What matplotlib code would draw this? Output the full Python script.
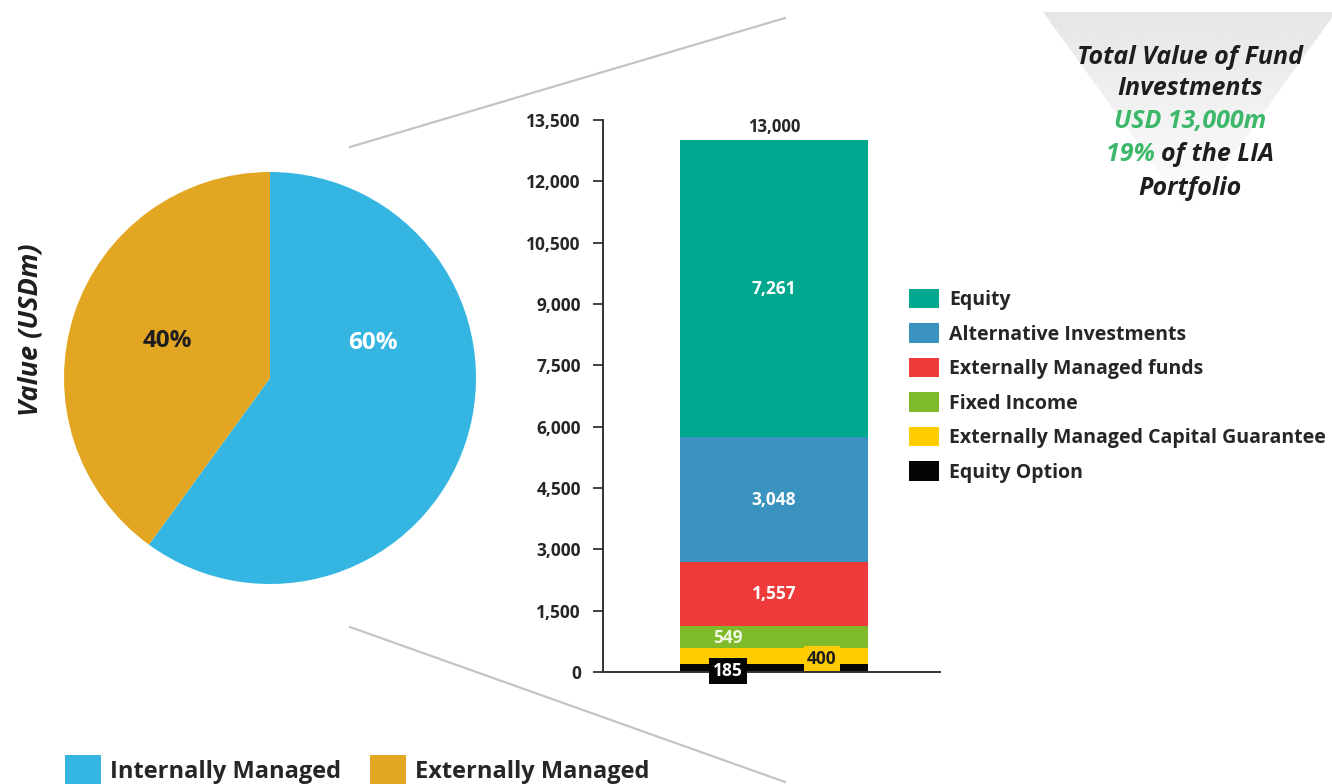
import matplotlib
matplotlib.use("Agg")
import matplotlib.pyplot as plt
from matplotlib.patches import Polygon, Rectangle
import numpy as np

# ---- data ----
pie_labels = ["Internally Managed", "Externally Managed"]
pie_values = [60, 40]
pie_colors = ["#35B6E2", "#E2A623"]

bar_categories = ["Equity Option", "Externally Managed Capital Guarantee", "Fixed Income",
                  "Externally Managed funds", "Alternative Investments", "Equity"]
bar_values = [185, 400, 549, 1557, 3048, 7261]
bar_colors = ["#050505", "#FFCC00", "#7EBA2A", "#EE3A3B", "#3A93BF", "#00A88F"]
yticks = [0, 1500, 3000, 4500, 6000, 7500, 9000, 10500, 12000, 13500]
total_value = 13000

W, H = 1332, 784
fig = plt.figure(figsize=(W / 100, H / 100), dpi=100)
plt.rcParams['font.family'] = ['Open Sans', 'DejaVu Sans']
DARK = "#1E1E1E"

# background axes in pixel coordinates
bg = fig.add_axes([0, 0, 1, 1])
bg.set_xlim(0, W)
bg.set_ylim(H, 0)
bg.axis("off")
# connector lines
bg.plot([350, 785], [147, 18], color="#C4C4C4", lw=1.6)
bg.plot([350, 785], [627, 782], color="#C4C4C4", lw=1.6)
# grey inverted triangle with vertical gradient
tri = Polygon([[1043, 12], [1336, 12], [1190, 215]], closed=True,
              facecolor="none", edgecolor="none")
bg.add_patch(tri)
grad = np.linspace(0.90, 1.0, 256).reshape(-1, 1)
im = bg.imshow(grad, cmap="gray", vmin=0, vmax=1, extent=[1043, 1336, 215, 12],
               aspect="auto", interpolation="bicubic", zorder=0.5)
im.set_clip_path(tri)
bg.set_xlim(0, W)
bg.set_ylim(H, 0)

# summary text
tx = 1190
fs_t = 18
kw = dict(va="center", fontsize=fs_t, fontweight="bold", style="italic")
GREEN = "#3DB86B"
bg.text(tx, 57, "Total Value of Fund", ha="center", color=DARK, **kw)
bg.text(tx, 88, "Investments", ha="center", color=DARK, **kw)
bg.text(tx, 121, "USD 13,000m", ha="center", color=GREEN, **kw)
ta = bg.text(0, 154, "19% ", ha="left", color=GREEN, **kw)
tb = bg.text(0, 154, "of the LIA", ha="left", color=DARK, **kw)
bg.text(tx, 188, "Portfolio", ha="center", color=DARK, **kw)
fig.canvas.draw()
rend = fig.canvas.get_renderer()
wa = ta.get_window_extent(rend).width
wb = tb.get_window_extent(rend).width
start = tx - (wa + wb) / 2
ta.set_x(start)
tb.set_x(start + wa)

# Y label
bg.text(31, 330, "Value (USDm)", rotation=90, ha="center", va="center", fontsize=19.5,
        fontweight="bold", style="italic", color=DARK)

# ---- pie ----
cx, cy, r = 270, 378, 206
pax = fig.add_axes([(cx - r) / W, (H - cy - r) / H, 2 * r / W, 2 * r / H])
wedges, texts = pax.pie(pie_values, colors=pie_colors, startangle=90, counterclock=False,
                        radius=1)
pax.set_xlim(-1, 1)
pax.set_ylim(-1, 1)
pax.set_aspect("equal")
pax.axis("off")
pax.text(0.50, 0.17, f"{pie_values[0]}%", ha="center", va="center", fontsize=17.5,
         fontweight="bold", color="white")
pax.text(-0.50, 0.18, f"{pie_values[1]}%", ha="center", va="center", fontsize=17.5,
         fontweight="bold", color=DARK)

# pie legend
for i, (lab, col) in enumerate(zip(pie_labels, pie_colors)):
    x0 = [65, 370][i]
    bg.add_patch(Rectangle((x0, 755), 36, 30, facecolor=col, edgecolor="none"))
    bg.text(x0 + 45, 772, lab, ha="left", va="center", fontsize=17,
            fontweight="bold", color="#262626")

# ---- stacked bar ----
ax_l, ax_r, y0p, y1p = 603, 940, 672, 120
bax = fig.add_axes([ax_l / W, (H - y0p) / H, (ax_r - ax_l) / W, (y0p - y1p) / H])
bax.set_xlim(0, 1)
bax.set_ylim(0, 13500)
bar_x = (774 - ax_l) / (ax_r - ax_l)
bar_w = 188 / (ax_r - ax_l)
bottom = 0
centers = []
for v, c, lab in zip(bar_values, bar_colors, bar_categories):
    bax.bar(bar_x, v, bottom=bottom, width=bar_w, color=c, label=lab, zorder=2)
    centers.append(bottom + v / 2)
    bottom += v
for s in ["top", "right"]:
    bax.spines[s].set_visible(False)
for s in ["left", "bottom"]:
    bax.spines[s].set_color("#333333")
    bax.spines[s].set_linewidth(1.4)
bax.set_xticks([])
bax.set_yticks(yticks)
bax.set_yticklabels([f"{t:,}" for t in yticks])
bax.tick_params(axis="y", length=7, width=1.3, color="#333333", labelsize=12.5,
                labelcolor="#262626", pad=9)
for lab in bax.get_yticklabels():
    lab.set_fontweight("bold")


def pxx(px):
    return (px - ax_l) / (ax_r - ax_l)


vfs = 12.5
for k in (5, 4, 3):
    bax.text(bar_x, centers[k], f"{bar_values[k]:,}", ha="center", va="center",
             color="white", fontsize=vfs, fontweight="bold", zorder=4)
bax.text(pxx(728), centers[2] - 40, f"{bar_values[2]:,}", ha="center", va="center",
         color="#EEF7E0", fontsize=vfs, fontweight="bold", zorder=4)
bax.text(pxx(822), 330, f"{bar_values[1]:,}", ha="center", va="center", color=DARK,
         fontsize=vfs, fontweight="bold", zorder=5,
         bbox=dict(boxstyle="square,pad=0.2", facecolor=bar_colors[1], edgecolor="none"))
bax.text(pxx(728), 20, f"{bar_values[0]:,}", ha="center", va="center", color="white",
         fontsize=vfs, fontweight="bold", zorder=5, clip_on=False,
         bbox=dict(boxstyle="square,pad=0.22", facecolor=bar_colors[0], edgecolor="none"))
bax.text(bar_x, total_value + 100, f"{total_value:,}", ha="center", va="bottom",
         color="#262626", fontsize=12, fontweight="bold")

# bar legend
handles, labels = bax.get_legend_handles_labels()
leg = fig.legend(handles[::-1], labels[::-1], loc="upper left",
                 bbox_to_anchor=(909 / W, 1 - 289 / H), frameon=False,
                 prop={"size": 14, "weight": "bold"}, handlelength=1.55,
                 handleheight=1.15, handletextpad=0.5, labelspacing=0.68,
                 borderaxespad=0, borderpad=0)
for t in leg.get_texts():
    t.set_color("#262626")

fig.savefig("out.png", dpi=100)
